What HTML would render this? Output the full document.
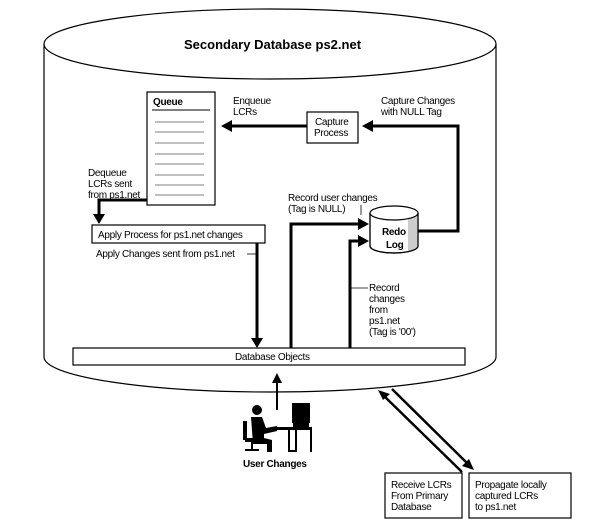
<!DOCTYPE html>
<html><head><meta charset="utf-8"><style>
body{margin:0;background:#fff}
svg{display:block}
text{font-family:"Liberation Sans",sans-serif;font-size:10px;fill:#000;letter-spacing:-0.3px}
</style></head><body>
<svg width="600" height="528" viewBox="0 0 600 528" xmlns="http://www.w3.org/2000/svg">
<!-- big cylinder -->
<path d="M44,44 L44,357 A226,35 0 0 0 496,357 L496,44" fill="#fff" stroke="#000" stroke-width="1.2"/>
<ellipse cx="270" cy="44" rx="226" ry="35" fill="#fff" stroke="#000" stroke-width="1.2"/>
<text x="184" y="49" style="font-size:13px;font-weight:bold;letter-spacing:0">Secondary Database ps2.net</text>

<!-- Queue -->
<rect x="147" y="92" width="68" height="113" fill="#fff" stroke="#000" stroke-width="1.2"/>
<text x="153" y="105" style="font-weight:bold">Queue</text>
<line x1="152" y1="110" x2="210" y2="110" stroke="#000"/>
<g stroke="#555" stroke-width="0.8">
<line x1="155" y1="122" x2="204" y2="122"/><line x1="155" y1="132" x2="204" y2="132"/>
<line x1="155" y1="143" x2="204" y2="143"/><line x1="155" y1="154" x2="204" y2="154"/>
<line x1="155" y1="164" x2="204" y2="164"/><line x1="155" y1="175" x2="204" y2="175"/>
<line x1="155" y1="185" x2="204" y2="185"/><line x1="155" y1="195" x2="204" y2="195"/>
</g>

<!-- Capture process -->
<rect x="307" y="112" width="51" height="31" fill="#fff" stroke="#000" stroke-width="1.2"/>
<text x="315" y="125">Capture</text><text x="314" y="136">Process</text>
<line x1="307" y1="126" x2="230" y2="126" stroke="#000" stroke-width="3"/>
<path d="M232,120 L232,132 L221,126 z" fill="#000"/>
<text x="233" y="104">Enqueue</text><text x="233" y="115">LCRs</text>

<path d="M418,231 L458,231 L458,126 L372,126" fill="none" stroke="#000" stroke-width="3"/>
<path d="M373,120 L373,132 L362,126 z" fill="#000"/>
<text x="381" y="104">Capture Changes</text><text x="381" y="115">with NULL Tag</text>

<!-- Redo log -->
<path d="M370,213 L370,246 A24,7 0 0 0 418,246 L418,213" fill="#fff" stroke="#000" stroke-width="1.2"/>
<path d="M408,219 L418,213 L418,246 A24,7 0 0 1 408,251 z" fill="#ccc"/>
<path d="M370,213 L370,246 A24,7 0 0 0 418,246 L418,213" fill="none" stroke="#000" stroke-width="1.2"/>
<ellipse cx="394" cy="213" rx="24" ry="7" fill="#fff" stroke="#000" stroke-width="1.2"/>
<text x="382" y="235" style="font-weight:bold">Redo</text><text x="386" y="248" style="font-weight:bold">Log</text>

<!-- Dequeue -->
<path d="M147,200 L99,200 L99,215" fill="none" stroke="#000" stroke-width="3"/>
<path d="M93,214 L105,214 L99,224 z" fill="#000"/>
<text x="88" y="176">Dequeue</text><text x="88" y="187">LCRs sent</text><text x="88" y="198">from ps1.net</text>

<rect x="92" y="225" width="173" height="18" fill="#fff" stroke="#000" stroke-width="1.2"/>
<text x="98" y="238">Apply Process for ps1.net changes</text>

<line x1="257" y1="243" x2="257" y2="339" stroke="#000" stroke-width="3"/>
<path d="M251,338 L263,338 L257,348 z" fill="#000"/>
<text x="96" y="257">Apply Changes sent from ps1.net</text>
<line x1="247" y1="254" x2="257" y2="254" stroke="#000" stroke-width="0.8"/>

<path d="M291,348 L291,224 L360,224" fill="none" stroke="#000" stroke-width="3"/>
<path d="M358,218 L358,230 L369,224 z" fill="#000"/>
<text x="288" y="201">Record user changes</text><text x="288" y="212">(Tag is NULL)</text>
<line x1="361" y1="205" x2="361" y2="215" stroke="#000" stroke-width="0.8"/>
<path d="M350,348 L350,241 L360,241" fill="none" stroke="#000" stroke-width="3"/>
<path d="M358,235 L358,247 L369,241 z" fill="#000"/>
<line x1="350" y1="288" x2="368" y2="288" stroke="#000" stroke-width="0.8"/>
<text x="369" y="291">Record</text><text x="369" y="302">changes</text><text x="369" y="313">from</text><text x="369" y="324">ps1.net</text><text x="369" y="335">(Tag is '00')</text>

<rect x="73" y="348" width="392" height="17" fill="#fff" stroke="#000" stroke-width="1.2"/>
<text x="235" y="360">Database Objects</text>

<!-- user -->
<line x1="277" y1="410" x2="277" y2="380" stroke="#000" stroke-width="2"/>
<path d="M272,383 L282,383 L277,373 z" fill="#000"/>
<g fill="#000" stroke="none">
<circle cx="257" cy="410" r="5"/>
<path d="M251,417 L262,417 L266,428 L277,426 L277,431 L264,434 L264,438 L272,440 L272,452 L267,452 L267,444 L253,444 z"/>
<rect x="243" y="421" width="4" height="19"/>
<rect x="245" y="438" width="15" height="4"/>
<rect x="251" y="442" width="2" height="8"/>
<rect x="245" y="449" width="14" height="2"/>
<rect x="292" y="403" width="18" height="20"/>
<rect x="293" y="423" width="16" height="4"/>
<rect x="274" y="427" width="38" height="3"/>
<path d="M288,430 L297,430 L297,452 L288,452 z M290,430 L290,450 L295,450 L295,430 z" fill-rule="evenodd"/>
<rect x="310" y="430" width="2" height="22"/>
</g>
<text x="243" y="467" style="font-weight:bold">User Changes</text>

<!-- diagonals -->
<line x1="462" y1="472" x2="383" y2="395" stroke="#000" stroke-width="2.5"/>
<path d="M378,390 L390,394 L383,400 z" fill="#000"/>
<line x1="392" y1="389" x2="468" y2="464" stroke="#000" stroke-width="2.5"/>
<path d="M474,470 L462,466 L469,459 z" fill="#000"/>

<rect x="385" y="473" width="77" height="45" fill="#fff" stroke="#000" stroke-width="1.2"/>
<text x="391" y="488">Receive LCRs</text><text x="391" y="499">From Primary</text><text x="391" y="510">Database</text>
<rect x="469" y="473" width="102" height="45" fill="#fff" stroke="#000" stroke-width="1.2"/>
<text x="475" y="488">Propagate locally</text><text x="475" y="499">captured LCRs</text><text x="475" y="510">to ps1.net</text>
</svg>
</body></html>
